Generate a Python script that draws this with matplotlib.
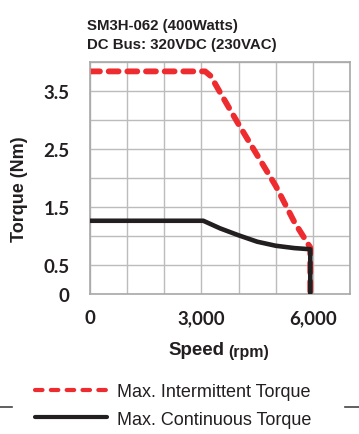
import matplotlib
matplotlib.use("Agg")
import matplotlib.pyplot as plt
from matplotlib.lines import Line2D

# ---- data ----
speed_int = [0, 3100, 3250, 3500, 4000, 4500, 5000, 5500, 5930, 5930]
torque_int = [3.83, 3.83, 3.75, 3.47, 2.92, 2.39, 1.86, 1.24, 0.80, 0.0]
speed_cont = [0, 3050, 3500, 4000, 4500, 5000, 5500, 5930, 5930]
torque_cont = [1.26, 1.26, 1.13, 1.01, 0.90, 0.83, 0.79, 0.77, 0.0]

x_grid = list(range(0, 7001, 1000))
x_labels = ["0", "", "", "3,000", "", "", "6,000", ""]
x_minor = [0, 2000, 4000, 6000]
y_grid = [0, 0.5, 1.0, 1.5, 2.0, 2.5, 3.0, 3.5, 4.0]
y_labels = ["0", "0.5", "", "1.5", "", "2.5", "", "3.5", ""]

title_lines = ["SM3H-062 (400Watts)", "DC Bus: 320VDC (230VAC)"]
label_int = "Max. Intermittent Torque"
label_cont = "Max. Continuous Torque"

W, H = 359, 435
fig = plt.figure(figsize=(W / 100, H / 100), dpi=100)
ax = fig.add_axes([90 / W, 1 - 295 / H, (350 - 90) / W, (295 - 62.5) / H])

red = "#ee2b2e"
black = "#231f20"
gridc = "#bcbcbc"

ax.set_xlim(0, 7000)
ax.set_ylim(0, 4)
ax.set_xticks(x_grid)
ax.set_xticklabels(x_labels)
ax.set_yticks(y_grid)
ax.set_yticklabels(y_labels)
ax.set_xticks(x_minor, minor=True)
ax.set_yticks([0], minor=True)
ax.tick_params(axis="both", which="major", length=0, labelsize=13.5)
ax.tick_params(axis="x", which="major", pad=11)
ax.tick_params(axis="y", which="major", pad=14.5)
ax.tick_params(axis="both", which="minor", length=5, color="#a0a0a0", width=1.2)
for lab in ax.get_xticklabels() + ax.get_yticklabels():
    lab.set_fontweight("bold")
    lab.set_family("Lato")
    lab.set_color("#231f20")
ax.grid(True, which="major", color=gridc, linewidth=1)
ax.set_axisbelow(True)
for s in ax.spines.values():
    s.set_color("#a8a8a8")
    s.set_linewidth(1.2)

ax.plot(speed_cont, torque_cont, color=black, lw=3.3, solid_capstyle="round",
        solid_joinstyle="round", label=label_cont, zorder=3)
ax.plot(speed_int, torque_int, color=red, lw=4.2, dashes=(1.7, 1.5),
        dash_capstyle="round", label=label_int, zorder=2)

fig.text(87 / W, 1 - 26 / H, title_lines[0], fontsize=10.8, fontweight="bold",
         family="Liberation Sans", color="#231f20", va="center", ha="left")
fig.text(87 / W, 1 - 45 / H, title_lines[1], fontsize=10.8, fontweight="bold",
         family="Liberation Sans", color="#231f20", va="center", ha="left")

fig.text(20 / W, 1 - 189 / H, "Torque (Nm)", rotation=90, fontsize=13,
         fontweight="bold", family="Liberation Sans", color="#231f20",
         va="center", ha="center")
fig.text(224 / W, 1 - 351 / H, "Speed", fontsize=13.5, fontweight="bold",
         family="Liberation Sans", color="#231f20", va="center", ha="right")
fig.text(228 / W, 1 - 353 / H, "(rpm)", fontsize=11.5, fontweight="bold",
         family="Liberation Sans", color="#231f20", va="center", ha="left")

h_int = Line2D([], [], color=red, lw=3.0, dashes=(1.8, 2.0), dash_capstyle="round")
h_cont = Line2D([], [], color=black, lw=3.0, solid_capstyle="round")
fig.legend([h_int, h_cont], [label_int, label_cont], loc="center left",
           bbox_to_anchor=(35 / W, 1 - 406.5 / H), frameon=False,
           prop={"family": "Liberation Sans", "size": 13},
           handlelength=4.0, handletextpad=0.55, labelspacing=0.58,
           borderpad=0, borderaxespad=0, labelcolor="#231f20")

fig.add_artist(Line2D([0 / W, 12 / W], [1 - 408 / H, 1 - 408 / H], color="#444444", lw=1.2))
fig.add_artist(Line2D([345 / W, 359 / W], [1 - 408 / H, 1 - 408 / H], color="#444444", lw=1.2))

fig.savefig("out.png", dpi=100)
